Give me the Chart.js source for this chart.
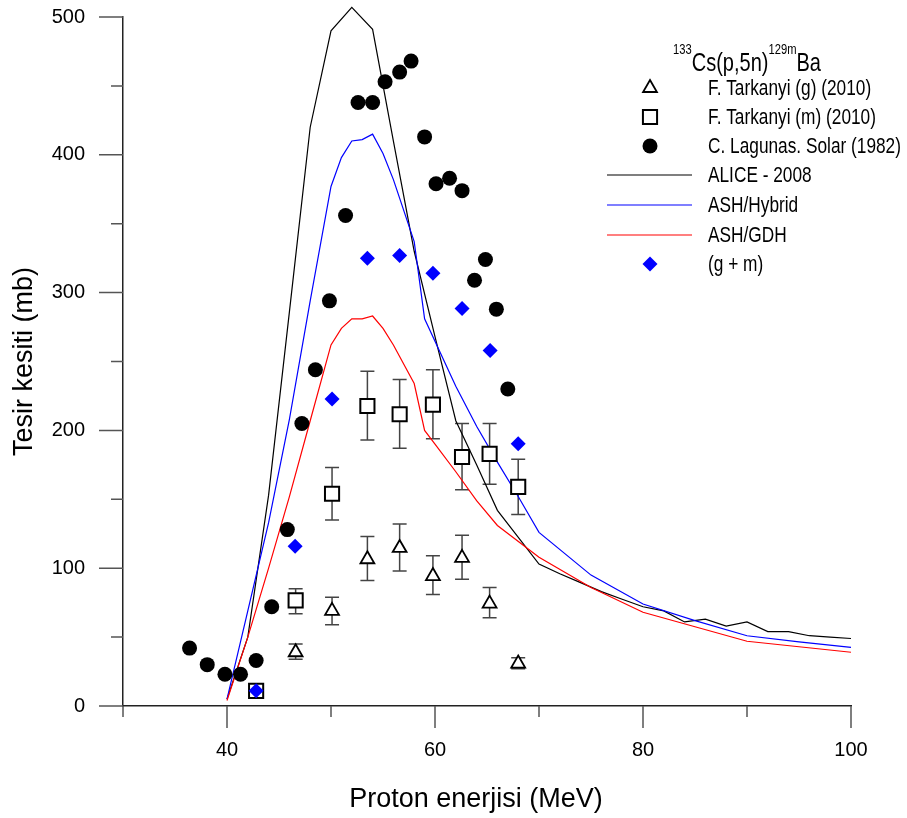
<!DOCTYPE html>
<html>
<head>
<meta charset="utf-8">
<script src="https://cdn.jsdelivr.net/npm/chart.js@4.4.0/dist/chart.umd.min.js"></script>
<style>
  html, body { margin: 0; padding: 0; background: #fff; }
</style>
</head>
<body>
<canvas id="chart" width="907" height="818"></canvas>
<script>
// F. Tarkanyi (g) (2010)
const gEnergy = [46.6, 50.1, 53.5, 56.6, 59.8, 62.6, 65.25, 68.0];
const gXs     = [39, 69, 106.5, 114.7, 94.3, 107.5, 74.3, 30.8];
const gLow    = [34, 59, 91, 98, 81, 92, 64, 27];
const gHigh   = [45, 79, 123, 132, 109, 124, 86, 35];

// F. Tarkanyi (m) (2010)
const mEnergy = [42.8, 46.6, 50.1, 53.5, 56.6, 59.8, 62.6, 65.25, 68.0];
const mXs     = [11, 76.7, 154, 217.7, 211.7, 218.7, 180.7, 183, 159];
const mLow    = [null, 67, 135, 193, 187, 194, 157, 161, 139];
const mHigh   = [null, 85, 173, 243, 237, 244, 205, 205, 179];

// C. Lagunas. Solar (1982)
const lsEnergy = [36.4, 38.1, 39.8, 41.3, 42.8, 44.3, 45.8, 47.2, 48.5, 49.85, 51.4, 52.6,
                  54.0, 55.2, 56.6, 57.7, 59.0, 60.1, 61.4, 62.6, 63.8, 64.85, 65.9, 67.0];
const lsXs     = [42, 30, 23, 23, 33, 72, 128, 205, 244, 294, 356, 438,
                  438, 453, 460, 468, 413, 379, 383, 374, 309, 324, 288, 230];

// (g + m)
const gmEnergy = [42.8, 46.55, 50.1, 53.5, 56.6, 59.8, 62.6, 65.3, 68.0];
const gmXs     = [11, 116, 222.8, 325, 327, 314, 288.5, 258, 190.4];

// ALICE - 2008
const aliceEnergy = [40, 42, 44, 46, 48, 50, 52, 54, 56, 58, 60, 62, 64, 66, 70, 72, 74, 76, 78,
                     80, 82, 84, 86, 88, 90, 92, 94, 96, 98, 100];
const aliceXs     = [5, 50, 153, 286, 420, 490, 507, 491, 410, 330, 268, 207, 175, 142, 103, 96, 89.5, 83, 77.5,
                     72, 69, 61, 63, 58, 61, 54, 54, 51, 50, 49];

// ASH/Hybrid
const hybEnergy = [40, 42, 44, 46, 48, 50, 51, 52, 53, 54, 55, 56, 58, 59, 62, 64, 66, 68, 70,
                   75, 80, 85, 90, 95, 100];
const hybXs     = [5, 69, 133, 208, 294, 377, 398, 410, 411, 415, 401, 382, 337, 281, 232, 203, 177, 152, 126,
                   95, 74, 62, 51, 46.5, 42.5];

// ASH/GDH
const gdhEnergy = [40, 42, 44, 46, 48, 50, 51, 52, 53, 54, 55, 56, 58, 59, 60, 62, 64, 66, 70,
                   75, 80, 85, 90, 95, 100];
const gdhXs     = [4, 50, 100, 152, 207, 262, 274, 281, 281, 283, 274, 262, 234, 200, 190, 170, 149, 131, 108,
                   86, 68, 57.5, 47, 43, 39];

const xMajor = [40, 60, 80, 100];
const xMinor = [30, 50, 70, 90];
const yMajor = [0, 100, 200, 300, 400, 500];
const yMinor = [50, 150, 250, 350, 450];

const titleParts = [['133', true], ['Cs(p,5n)', false], ['129m', true], ['Ba', false]];
const xTitle = 'Proton enerjisi (MeV)';

const pts = (xs, ys) => xs.map((x, i) => ({ x: x, y: ys[i] }));

const SANS = '"Liberation Sans", Arial, sans-serif';

// condensed text: the legend uses a narrow face
function narrowText(ctx, text, x, y, size, sx) {
  ctx.save();
  ctx.font = size + 'px ' + SANS;
  ctx.translate(x, y);
  ctx.scale(sx, 1);
  ctx.fillText(text, 0, 0);
  const w = ctx.measureText(text).width * sx;
  ctx.restore();
  return w;
}

// error bars drawn under the markers
const errorBars = {
  id: 'errorBars',
  beforeDatasetsDraw(chart) {
    const ctx = chart.ctx;
    const xs = chart.scales.x, ys = chart.scales.y;
    const sets = [[gEnergy, gLow, gHigh], [mEnergy, mLow, mHigh]];
    ctx.save();
    ctx.strokeStyle = '#444';
    ctx.lineWidth = 1.5;
    sets.forEach(([en, lo, hi]) => {
      en.forEach((e, i) => {
        if (lo[i] == null) return;
        const px = xs.getPixelForValue(e);
        const p1 = ys.getPixelForValue(lo[i]);
        const p2 = ys.getPixelForValue(hi[i]);
        ctx.beginPath();
        ctx.moveTo(px, p1); ctx.lineTo(px, p2);
        ctx.moveTo(px - 7, p1); ctx.lineTo(px + 7, p1);
        ctx.moveTo(px - 7, p2); ctx.lineTo(px + 7, p2);
        ctx.stroke();
      });
    });
    ctx.restore();
  }
};

// major and minor tick marks outside the axes, plus the x title
const tickMarks = {
  id: 'tickMarks',
  afterDraw(chart) {
    const ctx = chart.ctx;
    const xs = chart.scales.x, ys = chart.scales.y;
    const ax = chart.chartArea.left, ay = chart.chartArea.bottom;
    ctx.save();
    ctx.strokeStyle = '#555';
    ctx.lineWidth = 1.5;
    ctx.beginPath();
    xMajor.forEach(v => { const p = xs.getPixelForValue(v); ctx.moveTo(p, ay); ctx.lineTo(p, ay + 22); });
    xMinor.forEach(v => { const p = xs.getPixelForValue(v); ctx.moveTo(p, ay); ctx.lineTo(p, ay + 11); });
    yMajor.forEach(v => { const p = ys.getPixelForValue(v); ctx.moveTo(ax, p); ctx.lineTo(ax - 24, p); });
    yMinor.forEach(v => { const p = ys.getPixelForValue(v); ctx.moveTo(ax, p); ctx.lineTo(ax - 12, p); });
    ctx.stroke();

    ctx.fillStyle = '#000';
    ctx.font = '27px ' + SANS;
    ctx.textAlign = 'center';
    ctx.textBaseline = 'middle';
    ctx.fillText(xTitle, 476, 800);
    ctx.restore();
  }
};

// legend box in the upper right
const sideLegend = {
  id: 'sideLegend',
  afterDraw(chart) {
    const ctx = chart.ctx;
    ctx.save();
    ctx.fillStyle = '#000';
    ctx.textBaseline = 'alphabetic';
    let x = 673;
    titleParts.forEach(([t, sup]) => {
      x += sup ? narrowText(ctx, t, x, 54, 14, 0.8) : narrowText(ctx, t, x, 71, 26, 0.77);
    });

    const rows = [
      { idx: 0, y: 88 }, { idx: 1, y: 117 }, { idx: 2, y: 146 },
      { idx: 4, y: 175 }, { idx: 5, y: 205 }, { idx: 6, y: 235 }, { idx: 3, y: 264 }
    ];
    rows.forEach(r => {
      const ds = chart.data.datasets[r.idx];
      if (ds.showLine) {
        ctx.strokeStyle = ds.borderColor;
        ctx.lineWidth = ds.borderWidth;
        ctx.beginPath();
        ctx.moveTo(607, r.y); ctx.lineTo(692, r.y);
        ctx.stroke();
      } else {
        ctx.fillStyle = ds.backgroundColor;
        ctx.strokeStyle = ds.borderColor;
        ctx.lineWidth = ds.borderWidth;
        Chart.helpers.drawPoint(ctx, {
          pointStyle: ds.pointStyle, radius: ds.pointRadius, rotation: 0, borderWidth: ds.borderWidth
        }, 650, r.y);
      }
      ctx.fillStyle = '#000';
      ctx.textBaseline = 'middle';
      narrowText(ctx, ds.label, 708, r.y + 1, 22, 0.785);
    });
    ctx.restore();
  }
};

new Chart(document.getElementById('chart'), {
  type: 'scatter',
  data: {
    datasets: [
      { label: 'F. Tarkanyi (g) (2010)', data: pts(gEnergy, gXs), pointStyle: 'triangle',
        pointRadius: 8, borderColor: '#000', backgroundColor: '#fff', borderWidth: 1.8, order: 3 },
      { label: 'F. Tarkanyi (m) (2010)', data: pts(mEnergy, mXs), pointStyle: 'rect',
        pointRadius: 10, borderColor: '#000', backgroundColor: '#fff', borderWidth: 2, order: 2 },
      { label: 'C. Lagunas. Solar (1982)', data: pts(lsEnergy, lsXs), pointStyle: 'circle',
        pointRadius: 7.5, borderColor: '#000', backgroundColor: '#000', borderWidth: 0, order: 1 },
      { label: '(g + m)', data: pts(gmEnergy, gmXs), pointStyle: 'rectRot',
        pointRadius: 7.5, borderColor: '#0000ff', backgroundColor: '#0000ff', borderWidth: 0, order: 0 },
      { label: 'ALICE - 2008', data: pts(aliceEnergy, aliceXs), showLine: true, pointRadius: 0,
        borderColor: '#000', borderWidth: 1.2, order: 6, clip: false },
      { label: 'ASH/Hybrid', data: pts(hybEnergy, hybXs), showLine: true, pointRadius: 0,
        borderColor: '#0000ff', borderWidth: 1.2, order: 5, clip: false },
      { label: 'ASH/GDH', data: pts(gdhEnergy, gdhXs), showLine: true, pointRadius: 0,
        borderColor: '#ff0000', borderWidth: 1.2, order: 4, clip: false }
    ]
  },
  options: {
    responsive: false,
    animation: false,
    devicePixelRatio: 1,
    layout: { padding: { top: 17, right: 56, left: 0, bottom: 0 } },
    plugins: { legend: { display: false }, tooltip: { enabled: false } },
    elements: { line: { tension: 0 } },
    scales: {
      x: {
        type: 'linear', min: 30, max: 100,
        afterFit: s => { s.height = 112; s.paddingLeft = 0; s.paddingRight = 0; },
        grid: { display: false, drawTicks: false },
        border: { display: true, color: '#222', width: 1.5 },
        ticks: {
          stepSize: 10, padding: 32, color: '#000',
          font: { family: SANS, size: 20 },
          callback: v => (xMajor.includes(v) ? v : '')
        }
      },
      y: {
        type: 'linear', min: 0, max: 500,
        afterFit: s => { s.width = 123; s.paddingTop = 0; s.paddingBottom = 0; },
        grid: { display: false, drawTicks: false },
        border: { display: true, color: '#222', width: 1.5 },
        ticks: {
          stepSize: 50, padding: 38, color: '#000',
          font: { family: SANS, size: 20 },
          callback: v => (yMajor.includes(v) ? v : '')
        },
        title: { display: true, text: 'Tesir kesiti (mb)', color: '#000',
                 font: { family: SANS, size: 27 }, padding: { top: 8, bottom: 0 } }
      }
    }
  },
  plugins: [errorBars, tickMarks, sideLegend]
});
</script>
</body>
</html>
